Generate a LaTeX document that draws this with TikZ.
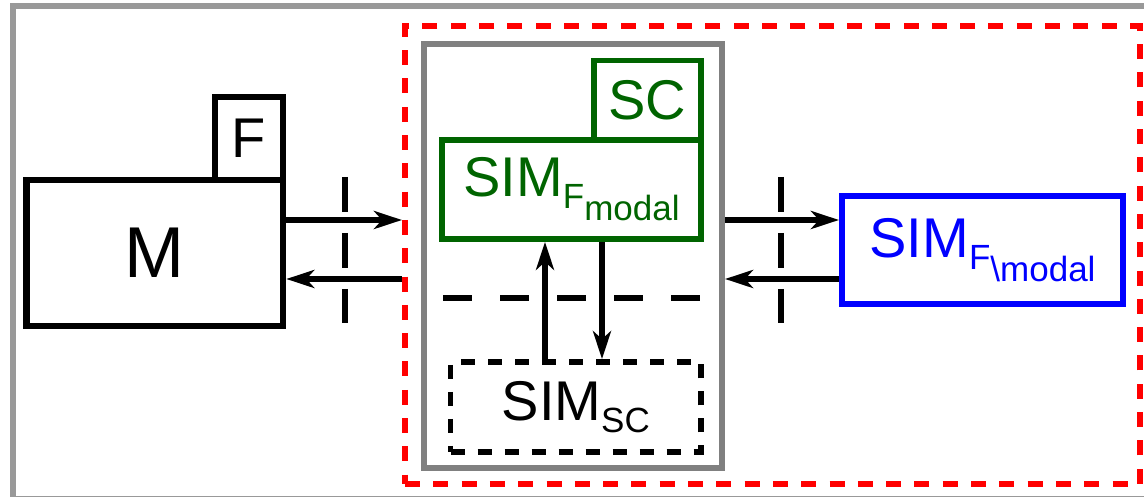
\documentclass[tikz,border=0pt]{standalone}
\usepackage{fontspec}
\setmainfont{Liberation Sans}
\usetikzlibrary{arrows.meta}
\definecolor{FrameGray}{HTML}{999999}
\definecolor{BoxGray}{HTML}{808080}
\definecolor{ModalGreen}{HTML}{006400}
\definecolor{RestBlue}{HTML}{0000FF}
\definecolor{CoSimRed}{HTML}{FF0000}
\newcommand{\lowsub}[1]{\raisebox{-12pt}{\fontsize{35}{35}\selectfont #1}}

\begin{document}
\begin{tikzpicture}[x=1pt,y=1pt,
  blk/.style={draw,line width=6.5pt,inner sep=0pt,font=\fontsize{56}{56}\selectfont},
  sig/.style={line width=6.7pt,-{Stealth[length=28pt,width=18pt,inset=8pt]}},
  cut/.style={line width=6.7pt,dash pattern=on 35pt off 21pt}]
\useasboundingbox (0,0) rectangle (1144,497);
\clip (0,0) rectangle (1144,497);
\node[draw=FrameGray,line width=6pt,inner sep=0pt,minimum width=1134.5pt,minimum height=493.5pt] (outer) at (579.75,244.25) {};
\node[draw=CoSimRed,line width=6pt,inner sep=0pt,dash pattern=on 15pt off 13.3pt,minimum width=735pt,minimum height=458.5pt] (red) at (772.5,241.75) {};
\node[draw=BoxGray,line width=6pt,inner sep=0pt,minimum width=298pt,minimum height=424.5pt] (inner) at (573,240.75) {};
\node[blk,minimum width=256.5pt,minimum height=146pt,font=\fontsize{72}{72}\selectfont] (M) at (154.75,244) {M};
\node[blk,minimum width=68pt,minimum height=83pt] (F) at (249,358.5) {F};
\node[blk,draw=ModalGreen,text=ModalGreen,line width=5.7pt,minimum width=107pt,minimum height=79.5pt] (sc) at (647.5,396.75) {SC};
\node[blk,draw=ModalGreen,text=ModalGreen,line width=5.7pt,minimum width=259pt,minimum height=99pt] (simf) at (571.5,307.5) {SIM\lowsub{F\lowsub{modal}}};
\node[blk,line width=5.7pt,dash pattern=on 14pt off 13pt,minimum width=250.5pt,minimum height=90pt] (simsc) at (575.75,90) {SIM\lowsub{SC}};
\node[blk,draw=RestBlue,text=RestBlue,line width=6pt,minimum width=281pt,minimum height=108.5pt] (rest) at (982.5,246.75) {SIM\lowsub{F\lowsub{\textbackslash modal}}};
\coordinate (hi) at (0,277);
\coordinate (lo) at (0,218);
\coordinate (up) at (545,0);
\coordinate (dn) at (602,0);
\draw[sig] (M.east |- hi) -- (red.west |- hi);
\draw[sig] (red.west |- lo) -- (M.east |- lo);
\draw[sig] (inner.east |- hi) -- (rest.west |- hi);
\draw[sig] (rest.west |- lo) -- (inner.east |- lo);
\draw[sig] (simsc.north -| up) -- (simf.south -| up);
\draw[sig] (simf.south -| dn) -- (simsc.north -| dn);
\draw[cut] (345,320) -- (345,174);
\draw[cut] (781,320) -- (781,174);
\draw[cut,dash pattern=on 28.5pt off 28.5pt] (443,199) -- (700,199);
\end{tikzpicture}
\end{document}
